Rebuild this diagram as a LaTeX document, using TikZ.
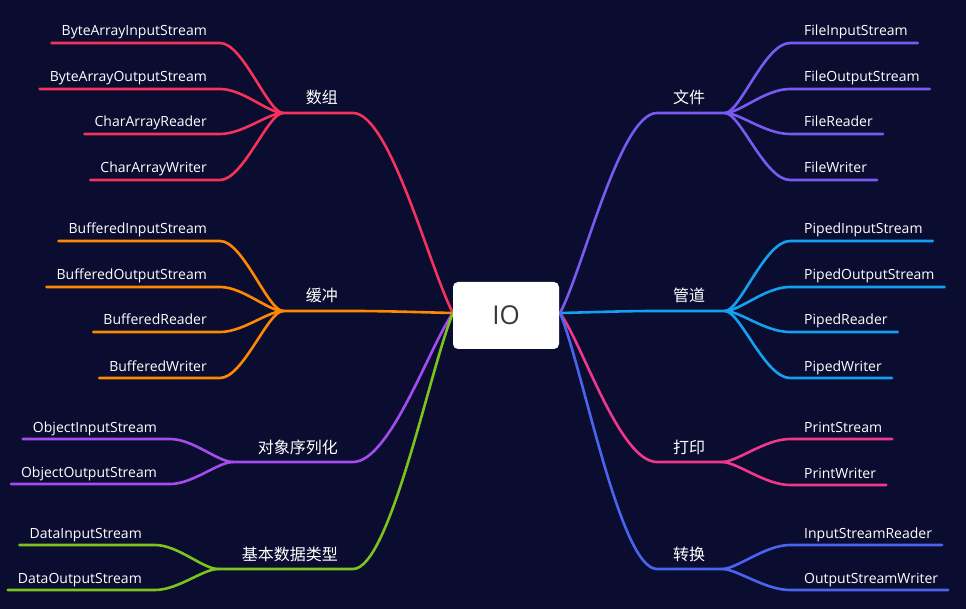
\documentclass[tikz,border=0pt]{standalone}
\usepackage{fontspec}
\setmainfont{Open Sans}
\newfontfamily\cjk{Noto Sans CJK SC}
\usetikzlibrary{calc}
\definecolor{bg}{RGB}{10,13,48}
\definecolor{cA}{RGB}{245,50,90}
\definecolor{cB}{RGB}{255,136,0}
\definecolor{cC}{RGB}{165,75,240}
\definecolor{cD}{RGB}{125,195,30}
\definecolor{cE}{RGB}{120,90,240}
\definecolor{cF}{RGB}{20,160,240}
\definecolor{cG}{RGB}{240,55,140}
\definecolor{cH}{RGB}{75,100,240}
\definecolor{iotext}{RGB}{55,55,60}
% left child: name, fork, F x, child y, text
\newcommand\lchild[5]{%
  \node[leaf, anchor=base east] (#1) at ({#3-76},{#4-7}) {#5};
  \coordinate (#1e) at ({#3-63},#4);
  \draw[br] (#2) .. controls +(-15,0) and +(23,0) .. (#1e) -- ($(#1.base west)+(-10,7)$);
}
% right child: name, fork, child y, text
\newcommand\rchild[4]{%
  \node[leaf, anchor=base west] (#1) at (804,{#3-7}) {#4};
  \coordinate (#1e) at (790,#3);
  \draw[br] (#2) .. controls +(15,0) and +(-25,0) .. (#1e) -- ($(#1.base east)+(10,7)$);
}
\begin{document}
\begin{tikzpicture}[x=1pt,y=-1pt,
  leaf/.style={text=white, font=\fontsize{14}{16}\selectfont, inner sep=0pt},
  lab/.style={text=white, font=\cjk\fontsize{16}{18}\selectfont, inner sep=0pt},
  br/.style={line width=2.6pt, line cap=round},
  rootbox/.style={fill=white, rounded corners=5pt, minimum width=106pt, minimum height=67pt, inner sep=0pt, text=iotext, font=\fontsize{26}{30}\selectfont}]
\path[fill=bg] (0,0) rectangle (966,609);
\coordinate (rl) at (453,313);
\coordinate (rr) at (560,313);

% ---------- left: 数组 ----------
\begin{scope}[cA]
\coordinate (fA) at (283,113); \coordinate (eA) at (353,113);
\node[lab, anchor=base east] (lA) at (338,104) {数组};
\draw[br] (rl) .. controls +(-23,{0.215*(113-313)}) and +(37,0) .. (eA) -- (fA);
\lchild{a1}{fA}{283}{43}{ByteArrayInputStream}
\lchild{a2}{fA}{283}{89}{ByteArrayOutputStream}
\lchild{a3}{fA}{283}{134}{CharArrayReader}
\lchild{a4}{fA}{283}{180}{CharArrayWriter}
\end{scope}

% ---------- left: 缓冲 ----------
\begin{scope}[cB]
\coordinate (fB) at (283,311); \coordinate (eB) at (353,311);
\node[lab, anchor=base east] (lB) at (338,302) {缓冲};
\draw[br] (rl) .. controls +(-23,{0.215*(311-313)}) and +(37,0) .. (eB) -- (fB);
\lchild{b1}{fB}{283}{241}{BufferedInputStream}
\lchild{b2}{fB}{283}{287}{BufferedOutputStream}
\lchild{b3}{fB}{283}{332}{BufferedReader}
\lchild{b4}{fB}{283}{378}{BufferedWriter}
\end{scope}

% ---------- left: 对象序列化 ----------
\begin{scope}[cC]
\coordinate (fC) at (233,462); \coordinate (eC) at (353,462);
\node[lab, anchor=base east] (lC) at (338,453) {对象序列化};
\draw[br] (rl) .. controls +(-23,{0.215*(462-313)}) and +(37,0) .. (eC) -- (fC);
\lchild{c1}{fC}{233}{439}{ObjectInputStream}
\lchild{c2}{fC}{233}{484}{ObjectOutputStream}
\end{scope}

% ---------- left: 基本数据类型 ----------
\begin{scope}[cD]
\coordinate (fD) at (218,569); \coordinate (eD) at (353,569);
\node[lab, anchor=base east] (lD) at (338,560) {基本数据类型};
\draw[br] (rl) .. controls +(-23,{0.215*(569-313)}) and +(37,0) .. (eD) -- (fD);
\lchild{d1}{fD}{218}{545}{DataInputStream}
\lchild{d2}{fD}{218}{590}{DataOutputStream}
\end{scope}

% ---------- right: 文件 ----------
\begin{scope}[cE]
\coordinate (fE) at (725,113); \coordinate (eE) at (657,113);
\node[lab, anchor=base west] (lE) at (673,104) {文件};
\draw[br] (rr) .. controls +(23,{0.215*(113-313)}) and +(-37,0) .. (eE) -- (fE);
\rchild{e1}{fE}{43}{FileInputStream}
\rchild{e2}{fE}{89}{FileOutputStream}
\rchild{e3}{fE}{134}{FileReader}
\rchild{e4}{fE}{180}{FileWriter}
\end{scope}

% ---------- right: 管道 ----------
\begin{scope}[cF]
\coordinate (fF) at (725,311); \coordinate (eF) at (657,311);
\node[lab, anchor=base west] (lF) at (673,302) {管道};
\draw[br] (rr) .. controls +(23,{0.215*(311-313)}) and +(-37,0) .. (eF) -- (fF);
\rchild{f1}{fF}{241}{PipedInputStream}
\rchild{f2}{fF}{287}{PipedOutputStream}
\rchild{f3}{fF}{332}{PipedReader}
\rchild{f4}{fF}{378}{PipedWriter}
\end{scope}

% ---------- right: 打印 ----------
\begin{scope}[cG]
\coordinate (fG) at (722,462); \coordinate (eG) at (657,462);
\node[lab, anchor=base west] (lG) at (673,453) {打印};
\draw[br] (rr) .. controls +(23,{0.215*(462-313)}) and +(-37,0) .. (eG) -- (fG);
\rchild{g1}{fG}{439}{PrintStream}
\rchild{g2}{fG}{485}{PrintWriter}
\end{scope}

% ---------- right: 转换 ----------
\begin{scope}[cH]
\coordinate (fH) at (722,569); \coordinate (eH) at (657,569);
\node[lab, anchor=base west] (lH) at (673,560) {转换};
\draw[br] (rr) .. controls +(23,{0.215*(569-313)}) and +(-37,0) .. (eH) -- (fH);
\rchild{h1}{fH}{545}{InputStreamReader}
\rchild{h2}{fH}{590}{OutputStreamWriter}
\end{scope}

% ---------- root ----------
\node[rootbox] (root) at (506,315.5) {IO};
\end{tikzpicture}
\end{document}
